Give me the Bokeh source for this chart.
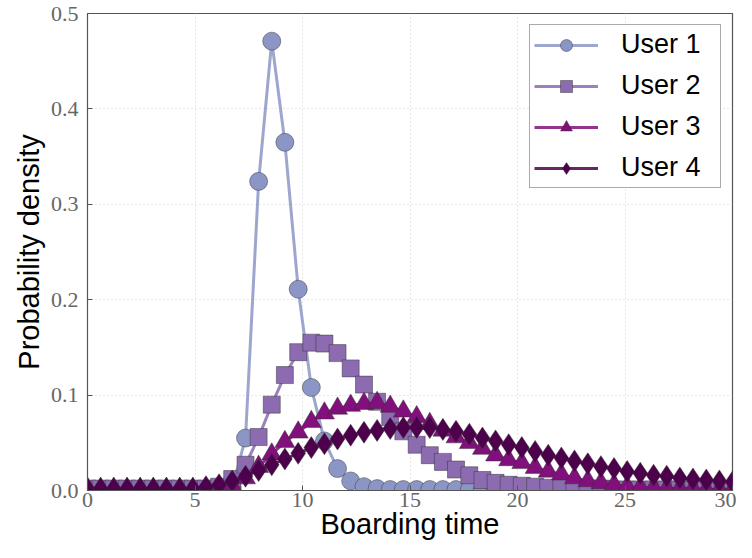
from bokeh.plotting import figure
from bokeh.models import Range1d, FixedTicker, Legend, LegendItem, NumeralTickFormatter
from bokeh.embed import file_html
from bokeh.resources import INLINE

# Boarding time sample points (0 .. 30, 50 points)
x_vals = [0.00, 0.61, 1.22, 1.84, 2.45, 3.06, 3.67, 4.29, 4.90, 5.51,
          6.12, 6.73, 7.35, 7.96, 8.57, 9.18, 9.80, 10.41, 11.02, 11.63,
          12.24, 12.86, 13.47, 14.08, 14.69, 15.31, 15.92, 16.53, 17.14, 17.76,
          18.37, 18.98, 19.59, 20.20, 20.82, 21.43, 22.04, 22.65, 23.27, 23.88,
          24.49, 25.10, 25.71, 26.33, 26.94, 27.55, 28.16, 28.78, 29.39, 30.00]

user1 = [0.000, 0.000, 0.000, 0.000, 0.000, 0.000, 0.000, 0.000, 0.000, 0.000,
         0.000, 0.003, 0.055, 0.324, 0.471, 0.365, 0.211, 0.108, 0.052, 0.023,
         0.010, 0.004, 0.002, 0.001, 0.001, 0.001, 0.001, 0.001, 0.001, 0.001,
         0.001, 0.001, 0.000, 0.000, 0.000, 0.000, 0.000, 0.000, 0.000, 0.000,
         0.000, 0.000, 0.000, 0.000, 0.000, 0.000, 0.000, 0.000, 0.000, 0.000]

user2 = [0.002, 0.002, 0.002, 0.002, 0.002, 0.002, 0.002, 0.002, 0.002, 0.002,
         0.004, 0.012, 0.027, 0.056, 0.090, 0.121, 0.145, 0.155, 0.154, 0.144,
         0.128, 0.111, 0.093, 0.077, 0.062, 0.048, 0.037, 0.030, 0.022, 0.016,
         0.011, 0.008, 0.006, 0.005, 0.004, 0.003, 0.003, 0.002, 0.002, 0.002,
         0.001, 0.001, 0.001, 0.001, 0.001, 0.001, 0.001, 0.001, 0.001, 0.001]

user3 = [0.002, 0.002, 0.002, 0.002, 0.002, 0.002, 0.002, 0.002, 0.002, 0.002,
         0.002, 0.005, 0.013, 0.025, 0.038, 0.051, 0.061, 0.072, 0.081, 0.086,
         0.089, 0.091, 0.092, 0.088, 0.083, 0.077, 0.070, 0.063, 0.056, 0.050,
         0.044, 0.037, 0.032, 0.029, 0.024, 0.020, 0.017, 0.013, 0.010, 0.008,
         0.006, 0.004, 0.003, 0.003, 0.002, 0.002, 0.002, 0.001, 0.001, 0.001]

user4 = [0.002, 0.002, 0.002, 0.002, 0.002, 0.002, 0.002, 0.002, 0.002, 0.004,
         0.006, 0.010, 0.015, 0.021, 0.027, 0.033, 0.039, 0.045, 0.049, 0.054,
         0.058, 0.061, 0.063, 0.065, 0.066, 0.066, 0.066, 0.064, 0.062, 0.059,
         0.055, 0.052, 0.048, 0.045, 0.041, 0.037, 0.034, 0.031, 0.028, 0.025,
         0.023, 0.020, 0.018, 0.016, 0.015, 0.013, 0.012, 0.011, 0.010, 0.009]

labels = ["User 1", "User 2", "User 3", "User 4"]
colors = ["#8c96c6", "#8c6bb1", "#810f7c", "#4d004b"]
markers = ["circle", "square", "triangle", "diamond"]
msizes = [18, 17, 20, 22]

x_ticks = [0, 5, 10, 15, 20, 25, 30]
y_ticks = [0.0, 0.1, 0.2, 0.3, 0.4, 0.5]

p = figure(width=736, height=542, output_backend="svg", toolbar_location=None,
           x_range=Range1d(0, 30), y_range=Range1d(0, 0.5),
           min_border_left=87, min_border_right=4, min_border_top=13, min_border_bottom=44)

p.background_fill_color = "white"
p.border_fill_color = "white"
p.outline_line_color = "#555555"
p.outline_line_width = 1.2

for ax in (p.xaxis[0], p.yaxis[0]):
    ax.axis_line_color = "#555555"
    ax.major_tick_line_color = "#555555"
    ax.major_tick_in = 5
    ax.major_tick_out = 0
    ax.minor_tick_line_color = None
    ax.major_label_text_font = "Liberation Serif"
    ax.major_label_text_font_size = "22px"
    ax.major_label_text_color = "#666666"
    ax.axis_label_text_font = "Liberation Sans"
    ax.axis_label_text_font_size = "29px"
    ax.axis_label_text_font_style = "normal"
    ax.axis_label_text_color = "#000000"

p.xaxis.ticker = FixedTicker(ticks=x_ticks)
p.yaxis.ticker = FixedTicker(ticks=y_ticks)
p.yaxis.formatter = NumeralTickFormatter(format="0.0")
p.xaxis.axis_label = "Boarding time"
p.yaxis.axis_label = "Probability density"
p.xaxis.major_label_standoff = 2
p.yaxis.major_label_standoff = 9
p.xaxis.axis_label_standoff = -2
p.yaxis.axis_label_standoff = 3

p.xgrid.grid_line_color = "#cccccc"
p.ygrid.grid_line_color = "#cccccc"
p.xgrid.grid_line_dash = "1 3"
p.ygrid.grid_line_dash = "1 3"

series = [user1, user2, user3, user4]
items = []
for lab, ys, col, mk, ms in zip(labels, series, colors, markers, msizes):
    ln = p.line(x_vals, ys, line_color=col, line_width=3, line_alpha=0.85)
    sc = p.scatter(x_vals, ys, marker=mk, size=ms, fill_color=col, fill_alpha=1.0,
                   line_color="#333333", line_alpha=0.6, line_width=0.8)
    items.append(LegendItem(label=lab, renderers=[ln, sc]))

legend = Legend(items=items, location="top_right")
legend.label_text_font = "Liberation Sans"
legend.label_text_font_size = "27px"
legend.label_text_color = "#000000"
legend.border_line_color = "#555555"
legend.border_line_width = 1
legend.background_fill_alpha = 1.0
legend.glyph_width = 64
legend.glyph_height = 30
legend.label_height = 30
legend.label_width = 95
legend.label_standoff = 23
legend.spacing = 10
legend.padding = 4
legend.margin = 11
p.add_layout(legend)

open("out.html", "w").write(file_html(p, INLINE))
